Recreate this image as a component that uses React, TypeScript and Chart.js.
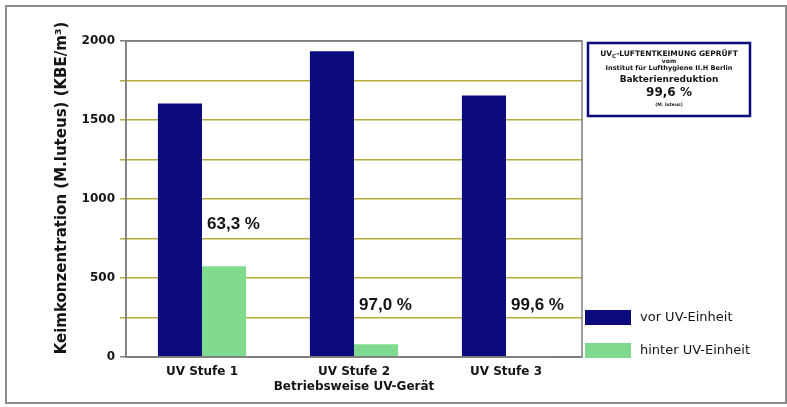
import React, { useEffect, useRef } from "react";
import { Chart, registerables } from "chart.js";

Chart.register(...registerables);

const categories = ["UV Stufe 1", "UV Stufe 2", "UV Stufe 3"];
const seriesNames = ["vor UV-Einheit", "hinter UV-Einheit"];
const vorValues = [1605, 1935, 1655];
const hinterValues = [575, 80, 7];
const reductionLabels = ["63,3 %", "97,0 %", "99,6 %"];
const reductionLabelLevels = [840, 330, 330];
const yMax = 2000;
const yStep = 250;
const yLabelStep = 500;
const yTitle = "Keimkonzentration (M.luteus) (KBE/m³)";
const xTitle = "Betriebsweise UV-Gerät";
const infoTitleMain = "UV";
const infoTitleSub = "C";
const infoTitleRest = "-LUFTENTKEIMUNG GEPRÜFT";
const infoLine2 = "vom";
const infoLine3 = "Institut für Lufthygiene II.H Berlin";
const infoLine4 = "Bakterienreduktion";
const infoLine5 = "99,6 %";
const infoLine6 = "(M. luteus)";

const NAVY = "#0b0b7e";
const GREEN = "#80da8e";
const GRID_YELLOW = "#b8ad3a";
const FRAME_GRAY = "#7d7d7d";
const TEXT = "#141414";
const DV = "'DejaVu Sans', sans-serif";
const AR = "'Liberation Sans', Arial, sans-serif";

const decorPlugin = {
  id: "decor",
  afterDraw(chart: any) {
    const ctx = chart.ctx as CanvasRenderingContext2D;
    const area = chart.chartArea;
    const yScale = chart.scales.y;
    ctx.save();

    // outer frame
    ctx.strokeStyle = "#8c8c8c";
    ctx.lineWidth = 2;
    ctx.strokeRect(6, 6, 780, 397);

    // plot border
    ctx.strokeStyle = FRAME_GRAY;
    ctx.lineWidth = 1.5;
    ctx.strokeRect(area.left, area.top, area.right - area.left, area.bottom - area.top);

    // y axis title
    ctx.save();
    ctx.translate(62, 188);
    ctx.rotate(-Math.PI / 2);
    ctx.fillStyle = TEXT;
    ctx.font = `bold 15px ${DV}`;
    ctx.textAlign = "center";
    ctx.textBaseline = "middle";
    ctx.fillText(yTitle, 0, 0);
    ctx.restore();

    // reduction labels
    const greenMeta = chart.getDatasetMeta(1);
    ctx.fillStyle = TEXT;
    ctx.font = `bold 17px ${AR}`;
    ctx.textAlign = "left";
    ctx.textBaseline = "middle";
    reductionLabels.forEach((lbl, i) => {
      const bar = greenMeta.data[i];
      if (!bar) return;
      const x = bar.x - bar.width / 2 + 5;
      const y = yScale.getPixelForValue(reductionLabelLevels[i]);
      ctx.fillText(lbl, x, y);
    });

    // legend
    const legX = area.right + 3;
    const legYs = [317.5, 350.5];
    chart.data.datasets.forEach((ds: any, i: number) => {
      ctx.fillStyle = ds.backgroundColor;
      ctx.fillRect(legX, legYs[i] - 7.5, 46, 15);
      ctx.fillStyle = TEXT;
      ctx.font = `13px ${DV}`;
      ctx.textAlign = "left";
      ctx.textBaseline = "middle";
      ctx.fillText(ds.label, legX + 55, legYs[i]);
    });

    // info box
    const bx = 588, by = 43, bw = 162, bh = 73;
    ctx.strokeStyle = NAVY;
    ctx.lineWidth = 2.5;
    ctx.strokeRect(bx, by, bw, bh);
    const cx = bx + bw / 2;
    ctx.fillStyle = TEXT;
    ctx.textBaseline = "middle";

    const f1 = `bold 7.5px ${DV}`;
    const f1s = `bold 5.5px ${DV}`;
    ctx.font = f1;
    const wMain = ctx.measureText(infoTitleMain).width;
    const wRest = ctx.measureText(infoTitleRest).width;
    ctx.font = f1s;
    const wSub = ctx.measureText(infoTitleSub).width;
    const x0 = cx - (wMain + wSub + wRest) / 2;
    ctx.textAlign = "left";
    ctx.font = f1;
    ctx.fillText(infoTitleMain, x0, 54);
    ctx.font = f1s;
    ctx.fillText(infoTitleSub, x0 + wMain, 56.5);
    ctx.font = f1;
    ctx.fillText(infoTitleRest, x0 + wMain + wSub, 54);

    ctx.textAlign = "center";
    ctx.font = `bold 6px ${DV}`;
    ctx.fillText(infoLine2, cx, 61);
    ctx.font = `bold 6.6px ${DV}`;
    ctx.fillText(infoLine3, cx, 68.5);
    ctx.font = `bold 9px ${DV}`;
    ctx.fillText(infoLine4, cx, 80);
    ctx.font = `bold 12px ${DV}`;
    ctx.fillText(infoLine5, cx, 92.5);
    ctx.font = `bold 4.5px ${DV}`;
    ctx.fillText(infoLine6, cx, 105);

    ctx.restore();
  },
};

export default function App() {
  const canvasRef = useRef<HTMLCanvasElement | null>(null);

  useEffect(() => {
    const canvas = canvasRef.current;
    if (!canvas) return;
    const chart = new Chart(canvas, {
      type: "bar",
      data: {
        labels: categories,
        datasets: [
          { label: seriesNames[0], data: vorValues, backgroundColor: NAVY, borderWidth: 0 },
          { label: seriesNames[1], data: hinterValues, backgroundColor: GREEN, borderWidth: 0 },
        ],
      },
      options: {
        responsive: false,
        animation: false,
        devicePixelRatio: 1,
        layout: { padding: { top: 41, right: 205, bottom: 0, left: 0 } },
        datasets: { bar: { categoryPercentage: 0.58, barPercentage: 1, minBarLength: 1 } },
        plugins: {
          legend: { display: false },
          tooltip: { enabled: false },
        },
        scales: {
          x: {
            type: "category",
            grid: { display: false, drawTicks: false },
            border: { display: true, color: FRAME_GRAY, width: 1.5 },
            ticks: {
              padding: 8,
              color: TEXT,
              font: { family: DV, size: 12, weight: "bold" },
              maxRotation: 0,
            },
            title: {
              display: true,
              text: xTitle,
              color: TEXT,
              font: { family: DV, size: 12, weight: "bold" },
              padding: { top: 0, bottom: 13 },
            },
            afterFit(scale: any) {
              scale.height = 50;
            },
          },
          y: {
            min: 0,
            max: yMax,
            grid: {
              color: (c: any) =>
                c.tick && (c.tick.value === 0 || c.tick.value === yMax) ? FRAME_GRAY : GRID_YELLOW,
              lineWidth: 1.5,
              drawTicks: true,
              tickLength: 6,
            },
            border: { display: true, color: FRAME_GRAY, width: 1.5 },
            ticks: {
              stepSize: yStep,
              padding: 5,
              color: TEXT,
              font: { family: DV, size: 12, weight: "bold" },
              callback: (v: any) => (Number(v) % yLabelStep === 0 ? String(v) : ""),
            },
            title: { display: false },
            afterFit(scale: any) {
              scale.width = 126;
            },
          },
        },
      },
      plugins: [decorPlugin],
    });
    return () => chart.destroy();
  }, []);

  return (
    <div style={{ position: "absolute", left: 0, top: 0, width: 787, height: 407, background: "#fff" }}>
      <canvas ref={canvasRef} width={787} height={407} style={{ display: "block" }} />
    </div>
  );
}
